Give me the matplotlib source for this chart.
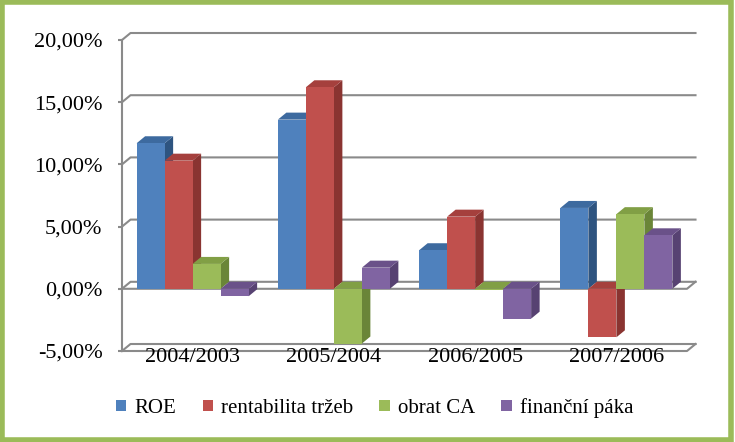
import matplotlib
matplotlib.use("Agg")
import matplotlib.pyplot as plt
from matplotlib.patches import Polygon, Patch, Rectangle

# --- data ---
obdobi = ["2004/2003", "2005/2004", "2006/2005", "2007/2006"]
roe = [11.7, 13.6, 3.1, 6.5]
rentabilita = [10.3, 16.2, 5.8, -3.9]
obrat_ca = [2.0, -4.4, -0.1, 6.0]
fin_paka = [-0.6, 1.7, -2.4, 4.3]
y_ticks = [-5, 0, 5, 10, 15, 20]

serie = [
    ("ROE", roe, "#4F81BD", "#3D6A9F", "#2E5480"),
    ("rentabilita tržeb", rentabilita, "#C0504D", "#A5403D", "#8A3431"),
    ("obrat CA", obrat_ca, "#9BBB59", "#819F45", "#6A8538"),
    ("finanční páka", fin_paka, "#8064A2", "#6A5189", "#574272"),
]

plt.rcParams["font.family"] = ["Liberation Serif", "DejaVu Serif"]

fig = plt.figure(figsize=(7.35, 4.42), dpi=100)
ax = fig.add_axes([122 / 735, 91 / 442, 565 / 735, 311 / 442])
ax.set_xlim(-0.5, 3.5)
ax.set_ylim(-5, 20)
for s in ax.spines.values():
    s.set_visible(False)

# 3D-ish depth offsets (in data units)
dx = 8.5 / 141.25
dy = 7 / 12.45
x0, x1 = -0.5, 3.5
grid_c = "#8A8A8A"

# back wall gridlines with left-wall diagonals
for yv in y_ticks:
    ax.plot([x0, x0 + dx, x1 + dx], [yv, yv + dy, yv + dy], color=grid_c,
            lw=1.5, clip_on=False, zorder=1)
# floor / zero plane front edges
for yv in [-5, 0]:
    ax.plot([x0, x1, x1 + dx], [yv, yv, yv + dy], color=grid_c, lw=1.5,
            clip_on=False, zorder=1)
ax.plot([x0, x0], [-5, 20], color=grid_c, lw=1.5, clip_on=False, zorder=1)

# bars
w = 28 / 141.25
for i, cat in enumerate(obdobi):
    for j, (name, vals, c_front, c_top, c_side) in enumerate(serie):
        v = vals[i]
        left = i + (j - 2) * w
        right = left + w
        top = max(v, 0)
        bot = min(v, 0)
        side = Polygon([(right, bot), (right + dx, bot + dy), (right + dx, top + dy), (right, top)],
                       closed=True, facecolor=c_side, edgecolor="none", zorder=3, clip_on=False)
        lid = Polygon([(left, top), (left + dx, top + dy), (right + dx, top + dy), (right, top)],
                      closed=True, facecolor=c_top, edgecolor="none", zorder=3, clip_on=False)
        front = Rectangle((left, bot), w, top - bot, facecolor=c_front, edgecolor="none",
                          zorder=3, clip_on=False)
        ax.add_patch(side)
        ax.add_patch(lid)
        ax.add_patch(front)

ax.set_yticks(y_ticks)
ax.set_yticklabels([f"{v:.2f}%".replace(".", ",") for v in y_ticks], fontsize=16)
ax.tick_params(axis="y", direction="out", length=3, color=grid_c, width=1.5, pad=11)
ax.set_xticks(range(len(obdobi)))
ax.set_xticklabels(obdobi, fontsize=16)
ax.tick_params(axis="x", length=0, pad=-2)

handles = [Patch(facecolor=s[2], edgecolor="none") for s in serie]
fig.legend(handles, [s[0] for s in serie], loc="center", bbox_to_anchor=(0.51, 0.077),
           ncol=4, frameon=False, fontsize=15, handlelength=0.5, handleheight=0.5,
           handletextpad=0.4, columnspacing=1.25)

# green frame
fig.patches.append(Rectangle((0.003, 0.005), 0.992, 0.99, transform=fig.transFigure,
                             fill=False, edgecolor="#9BBB59", linewidth=4))

fig.savefig("out.png", dpi=100)
